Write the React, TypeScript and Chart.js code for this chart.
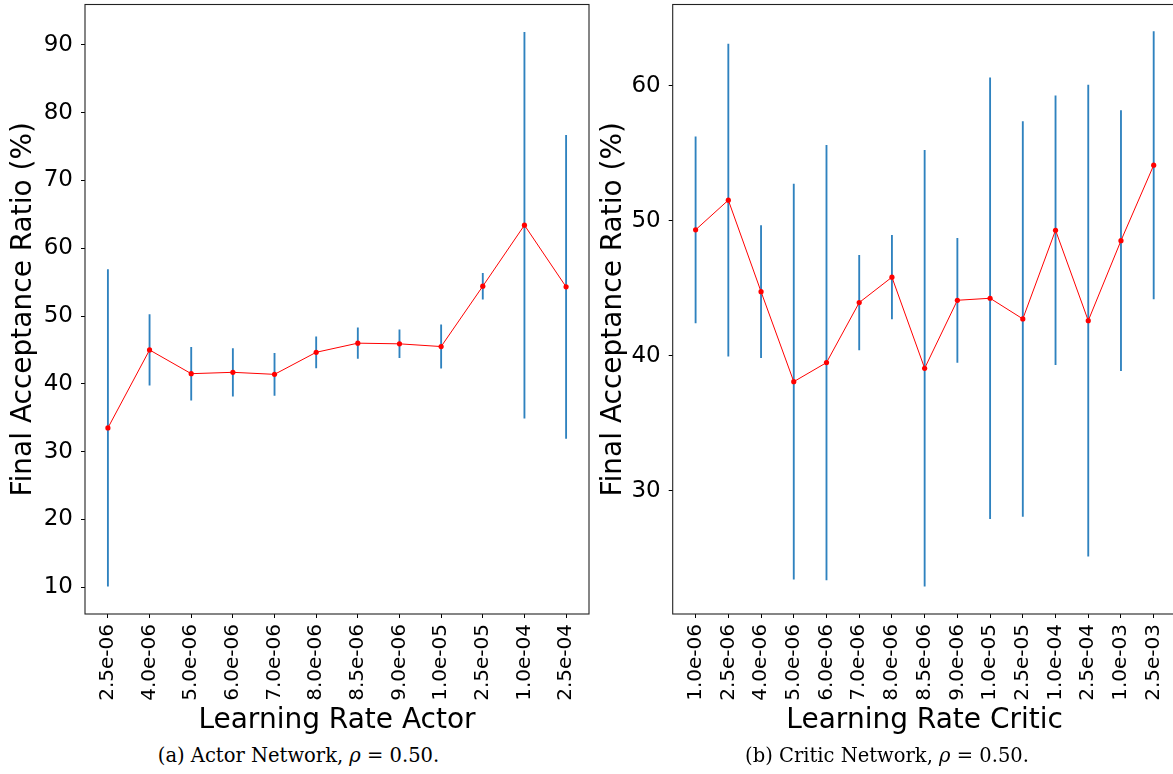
import React, { useEffect, useRef } from "react";
import { Chart, registerables } from "chart.js";

Chart.register(...registerables);

// ---- Actor network data ----
const actorLabels = ["2.5e-06", "4.0e-06", "5.0e-06", "6.0e-06", "7.0e-06", "8.0e-06", "8.5e-06", "9.0e-06", "1.0e-05", "2.5e-05", "1.0e-04", "2.5e-04"];
const actorMeans = [33.5, 45.0, 41.5, 41.7, 41.4, 44.65, 46.0, 45.9, 45.5, 54.4, 63.4, 54.3];
const actorErrs = [23.35, 5.2, 3.9, 3.5, 3.1, 2.3, 2.25, 2.05, 3.2, 1.9, 28.45, 22.35];
const actorYTicks = [10, 20, 30, 40, 50, 60, 70, 80, 90];
const actorYMin = 6.06;
const actorYMax = 95.94;

// ---- Critic network data ----
const criticLabels = ["1.0e-06", "2.5e-06", "4.0e-06", "5.0e-06", "6.0e-06", "7.0e-06", "8.0e-06", "8.5e-06", "9.0e-06", "1.0e-05", "2.5e-05", "1.0e-04", "2.5e-04", "1.0e-03", "2.5e-03"];
const criticMeans = [49.33, 51.53, 44.75, 38.08, 39.49, 43.94, 45.82, 39.07, 44.11, 44.26, 42.73, 49.3, 42.6, 48.53, 54.12];
const criticErrs = [6.9, 11.57, 4.9, 14.64, 16.1, 3.5, 3.1, 16.15, 4.6, 16.33, 14.63, 9.96, 17.45, 9.63, 9.91];
const criticYTicks = [30, 40, 50, 60];
const criticYMin = 20.86;
const criticYMax = 66.03;

const yTitle = "Final Acceptance Ratio (%)";
const FONT = "'DejaVu Sans', sans-serif";

const boxPlugin = {
  id: "boxPlugin",
  afterDraw(chart: any) {
    const { ctx, chartArea } = chart;
    ctx.save();
    ctx.strokeStyle = "#222";
    ctx.lineWidth = 1.1;
    ctx.strokeRect(chartArea.left, chartArea.top, chartArea.right - chartArea.left, chartArea.bottom - chartArea.top);
    ctx.restore();
  },
};

type PlotProps = {
  labels: string[];
  means: number[];
  errs: number[];
  yTicks: number[];
  yMin: number;
  yMax: number;
  xTitle: string;
  width: number;
  height: number;
  yAxisWidth: number;
  padRight: number;
  padTop: number;
  plotBottom: number;
};

function ErrorPlot(p: PlotProps) {
  const ref = useRef<HTMLCanvasElement | null>(null);
  useEffect(() => {
    if (!ref.current) return;
    const n = p.labels.length;
    const margin = (n - 1) * 0.05;
    const chart = new Chart(ref.current, {
      type: "line",
      data: {
        datasets: [
          {
            type: "line",
            data: p.means.map((m, i) => ({ x: i, y: m })),
            borderColor: "#ff0000",
            borderWidth: 1,
            pointRadius: 2.6,
            pointBackgroundColor: "#ff0000",
            pointBorderWidth: 0,
            tension: 0,
            fill: false,
            order: 0,
          } as any,
          {
            type: "bar",
            data: p.means.map((m, i) => ({ x: i, y: [m - p.errs[i], m + p.errs[i]] })),
            backgroundColor: "#2f82bf",
            borderWidth: 0,
            barThickness: 1.2,
            order: 1,
          } as any,
        ],
      },
      options: {
        animation: false,
        responsive: false,
        devicePixelRatio: 1,
        events: [],
        layout: { padding: { left: 0, right: p.padRight, top: p.padTop, bottom: 0 } },
        plugins: { legend: { display: false }, tooltip: { enabled: false } },
        scales: {
          x: {
            type: "linear",
            offset: false,
            min: -margin,
            max: n - 1 + margin,
            afterBuildTicks: (scale: any) => {
              scale.ticks = p.labels.map((_, i) => ({ value: i }));
            },
            afterFit: (scale: any) => {
              scale.height = p.height - p.plotBottom;
              scale.paddingLeft = 0;
              scale.paddingRight = 0;
            },
            grid: { display: true, drawOnChartArea: false, drawTicks: true, tickLength: 4, color: "#000", offset: false },
            border: { display: false },
            ticks: {
              autoSkip: false,
              minRotation: 90,
              maxRotation: 90,
              padding: 6,
              color: "#000",
              font: { family: FONT, size: 20 },
              callback: (v: any) => p.labels[Math.round(Number(v))] ?? "",
            },
            title: {
              display: true,
              text: p.xTitle,
              color: "#000",
              font: { family: FONT, size: 28 },
              padding: { top: 0, bottom: 2 },
            },
          },
          y: {
            type: "linear",
            min: p.yMin,
            max: p.yMax,
            afterBuildTicks: (scale: any) => {
              scale.ticks = p.yTicks.map((v) => ({ value: v }));
            },
            afterFit: (scale: any) => {
              scale.width = p.yAxisWidth;
              scale.paddingTop = 0;
              scale.paddingBottom = 0;
            },
            grid: { display: true, drawOnChartArea: false, drawTicks: true, tickLength: 4, color: "#000" },
            border: { display: false },
            ticks: {
              padding: 8,
              color: "#000",
              font: { family: FONT, size: 23 },
              callback: (v: any) => String(v),
            },
            title: {
              display: true,
              text: yTitle,
              color: "#000",
              font: { family: FONT, size: 28 },
              padding: { top: 7, bottom: 0 },
            },
          },
        },
      },
      plugins: [boxPlugin],
    } as any);
    return () => chart.destroy();
  }, []);
  return <canvas ref={ref} width={p.width} height={p.height} style={{ width: p.width, height: p.height, display: "block" }} />;
}

const captionStyle: React.CSSProperties = {
  position: "absolute",
  width: 400,
  textAlign: "center",
  fontFamily: "'DejaVu Serif', serif",
  fontSize: 19.5,
  lineHeight: "19.5px",
  color: "#000",
  whiteSpace: "nowrap",
};

export default function App() {
  return (
    <div style={{ position: "fixed", left: 0, top: 0, width: 1173, height: 774, overflow: "hidden", background: "#fff" }}>
      <div style={{ position: "absolute", left: 0, top: 0 }}>
        <ErrorPlot
          labels={actorLabels}
          means={actorMeans}
          errs={actorErrs}
          yTicks={actorYTicks}
          yMin={actorYMin}
          yMax={actorYMax}
          xTitle="Learning Rate Actor"
          width={595}
          height={740}
          yAxisWidth={85}
          padRight={6}
          padTop={4.5}
          plotBottom={614}
        />
      </div>
      <div style={{ position: "absolute", left: 590, top: 0 }}>
        <ErrorPlot
          labels={criticLabels}
          means={criticMeans}
          errs={criticErrs}
          yTicks={criticYTicks}
          yMin={criticYMin}
          yMax={criticYMax}
          xTitle="Learning Rate Critic"
          width={592}
          height={740}
          yAxisWidth={82.7}
          padRight={5.4}
          padTop={4.5}
          plotBottom={614}
        />
      </div>
      <div style={{ ...captionStyle, left: 98.5, top: 745.5 }}>
        (a) Actor Network, <i>ρ</i> = 0.50.
      </div>
      <div style={{ ...captionStyle, left: 687, top: 745.5 }}>
        (b) Critic Network, <i>ρ</i> = 0.50.
      </div>
    </div>
  );
}
